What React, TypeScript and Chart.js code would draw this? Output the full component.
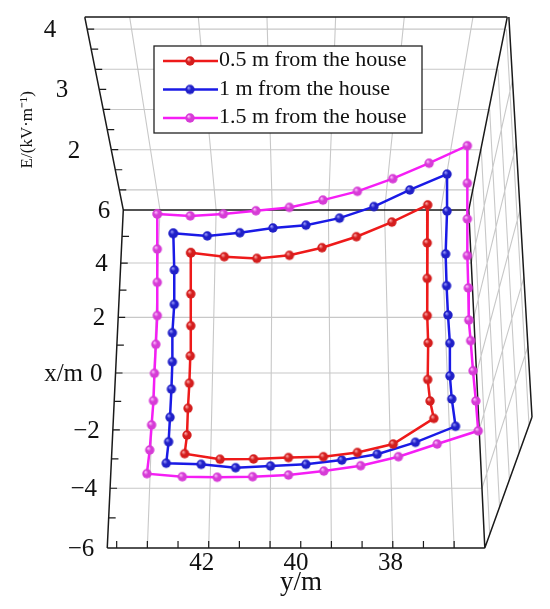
import { useEffect, useRef } from "react";
import { Chart, registerables } from "chart.js";

Chart.register(...registerables);

// ---------- data ----------
const seriesLabels = ["0.5 m from the house", "1 m from the house", "1.5 m from the house"];
const lineColors = ["#ee1a1a", "#1a1ae6", "#f51ef5"];
const ballColors = ["#d41e1e", "#2020c8", "#d63cd6"];
const ballLights = ["#ffb0b0", "#a0a0ff", "#ffc4ff"];

// y/m (horizontal) and apparent x/m (vertical) of each loop
const redYm = [42.23, 41.52, 40.83, 40.14, 39.45, 38.72, 37.97, 37.21, 37.22, 37.22, 37.22, 37.2, 37.21, 37.16, 37.08, 37.94, 38.7, 39.42, 40.16, 40.9, 41.61, 42.36, 42.31, 42.29, 42.26, 42.24, 42.23, 42.23];
const redXm = [4.48, 4.34, 4.28, 4.39, 4.66, 5.05, 5.57, 6.18, 4.83, 3.57, 2.25, 1.28, -0.02, -0.78, -1.4, -2.31, -2.61, -2.76, -2.79, -2.84, -2.85, -2.65, -1.99, -1.04, -0.15, 0.82, 1.89, 3.02];

const blueYm = [42.6, 41.88, 41.19, 40.49, 39.79, 39.08, 38.35, 37.59, 36.8, 36.8, 36.83, 36.81, 36.78, 36.74, 36.74, 36.7, 36.62, 37.47, 38.28, 39.03, 39.79, 40.54, 41.28, 42.01, 42.75, 42.7, 42.67, 42.64, 42.62, 42.62, 42.58, 42.58];
const blueXm = [5.17, 5.08, 5.19, 5.36, 5.46, 5.71, 6.12, 6.71, 7.27, 5.96, 4.44, 3.31, 2.27, 1.27, 0.11, -0.71, -1.68, -2.25, -2.67, -2.88, -3.03, -3.09, -3.15, -3.03, -2.99, -2.23, -1.36, -0.36, 0.61, 1.64, 2.65, 3.87];

const magYm = [42.94, 42.24, 41.54, 40.85, 40.14, 39.43, 38.7, 37.95, 37.18, 36.37, 36.37, 36.37, 36.37, 36.35, 36.34, 36.3, 36.25, 36.19, 36.14, 37.01, 37.83, 38.63, 39.41, 40.16, 40.92, 41.67, 42.41, 43.16, 43.1, 43.06, 43.02, 43.0, 42.97, 42.94, 42.94, 42.94];
const magXm = [5.86, 5.79, 5.86, 5.97, 6.09, 6.35, 6.66, 7.11, 7.66, 8.28, 6.95, 5.68, 4.38, 3.23, 2.09, 1.36, 0.29, -0.78, -1.84, -2.31, -2.76, -3.08, -3.27, -3.41, -3.47, -3.49, -3.47, -3.36, -2.52, -1.63, -0.77, 0.2, 1.23, 2.25, 3.43, 4.61];

// ticks
const yTickLabels = [42, 40, 38]; // y/m
const xTickLabels = [-6, -4, -2, 0, 2, 4, 6]; // x/m
const eTickLabels = [2, 3, 4]; // E
const floorGridYm = [43.15, 41.85, 40.55, 39.25, 37.95, 36.65];
const bottomTickYm = [43.8, 43.15, 42.5, 41.85, 41.2, 40.55, 39.9, 39.25, 38.6, 37.95, 37.3, 36.65];
const floorGridXm = [-4, -2, 0, 2, 4];
const leftTickXm = [-5, -4, -3, -2, -1, 0, 1, 2, 3, 4, 5];
const wallGridE = [1.333, 2, 2.667, 3.333, 4];
const wallTickE = [1.333, 1.667, 2, 2.333, 2.667, 3, 3.333, 3.667, 4];

// ---------- box geometry (apparent plane coordinates) ----------
const Y_LO = 36, Y_HI = 44, X_LO = -6, X_HI = 6, E_LO = 1, E_HI = 4.2;
const CENTER_Y = 40;
const FLOOR_FAR_SCALE = 0.915;
const WALL_TOP_SCALE = 1.119;
const E_UNIT = 2.14;
const PERSP_K = 0.0734;
const WALL_TOP = X_HI + (E_HI - E_LO) * E_UNIT;
const SIDE_OUT_LO = [35.0, -1.35];
const SIDE_OUT_HI = [35.49, WALL_TOP];

const persp = (t: number) => {
  const s = (t - X_LO) / (X_HI - X_LO);
  return (s * (1 + PERSP_K)) / (1 + PERSP_K * s);
};
const fy = (t: number) => X_LO + (X_HI - X_LO) * persp(t);
const floorPt = (ym: number, t: number) => {
  const ay = fy(t);
  const sc = 1 + (FLOOR_FAR_SCALE - 1) * ((ay - X_LO) / (X_HI - X_LO));
  return [CENTER_Y + (ym - CENTER_Y) * sc, ay];
};
const wallPt = (ym: number, e: number) => {
  const ay = X_HI + (e - E_LO) * E_UNIT;
  const f = (ay - X_HI) / (WALL_TOP - X_HI);
  const sc = FLOOR_FAR_SCALE + (WALL_TOP_SCALE - FLOOR_FAR_SCALE) * f;
  return [CENTER_Y + (ym - CENTER_Y) * sc, ay];
};
const sidePt = (t: number, e: number) => {
  const a = floorPt(Y_LO, t);
  const u = persp(t);
  const b = [SIDE_OUT_LO[0] + (SIDE_OUT_HI[0] - SIDE_OUT_LO[0]) * u, SIDE_OUT_LO[1] + (SIDE_OUT_HI[1] - SIDE_OUT_LO[1]) * u];
  const f = (e - E_LO) / (E_HI - E_LO);
  return [a[0] + (b[0] - a[0]) * f, a[1] + (b[1] - a[1]) * f];
};

const fmt = (v: number) => (v < 0 ? "\u2212" + Math.abs(v) : String(v));
const SERIF = '"Liberation Serif", "Times New Roman", serif';

function makeBall(base: string, light: string, r: number) {
  const c = document.createElement("canvas");
  const size = Math.ceil(r * 2) + 2;
  c.width = size;
  c.height = size;
  const g = c.getContext("2d")!;
  const cx = size / 2, cy = size / 2;
  const grad = g.createRadialGradient(cx - r * 0.35, cy - r * 0.4, r * 0.05, cx, cy, r);
  grad.addColorStop(0, light);
  grad.addColorStop(0.45, base);
  grad.addColorStop(1, base);
  g.fillStyle = grad;
  g.beginPath();
  g.arc(cx, cy, r, 0, Math.PI * 2);
  g.fill();
  return c;
}

export default function App() {
  const ref = useRef<HTMLCanvasElement>(null);

  useEffect(() => {
    const canvas = ref.current!;
    const balls = ballColors.map((c, i) => makeBall(c, ballLights[i], 4.7));
    const series = [
      [redYm, redXm],
      [blueYm, blueXm],
      [magYm, magXm],
    ];

    const toPx = (chart: any, p: number[]) => [
      chart.scales.x.getPixelForValue(p[0]),
      chart.scales.y.getPixelForValue(p[1]),
    ];

    const framePlugin = {
      id: "frame3d",
      beforeDatasetsDraw(chart: any) {
        const ctx = chart.ctx as CanvasRenderingContext2D;
        const seg = (a: number[], b: number[]) => {
          const A = toPx(chart, a), B = toPx(chart, b);
          ctx.moveTo(A[0], A[1]);
          ctx.lineTo(B[0], B[1]);
        };
        ctx.save();
        // grid
        ctx.strokeStyle = "#c8c8c8";
        ctx.lineWidth = 1.1;
        ctx.beginPath();
        floorGridYm.forEach((v) => {
          seg(floorPt(v, X_LO), floorPt(v, X_HI));
          seg(wallPt(v, E_LO), wallPt(v, E_HI));
        });
        floorGridXm.forEach((t) => {
          seg(floorPt(Y_HI, t), floorPt(Y_LO, t));
          seg(sidePt(t, E_LO), sidePt(t, E_HI));
        });
        wallGridE.forEach((e) => {
          seg(wallPt(Y_HI, e), wallPt(Y_LO, e));
          seg(sidePt(X_LO, e), sidePt(X_HI, e));
        });
        ctx.stroke();
        // frame
        ctx.strokeStyle = "#1a1a1a";
        ctx.lineWidth = 1.5;
        ctx.beginPath();
        seg(wallPt(Y_HI, E_HI), wallPt(Y_LO, E_HI));
        seg(floorPt(Y_HI, X_HI), wallPt(Y_HI, E_HI));
        seg(floorPt(Y_LO, X_HI), wallPt(Y_LO, E_HI));
        seg(floorPt(Y_HI, X_HI), floorPt(Y_LO, X_HI));
        seg(floorPt(Y_HI, X_LO), floorPt(Y_HI, X_HI));
        seg(floorPt(Y_HI, X_LO), floorPt(Y_LO, X_LO));
        seg(floorPt(Y_LO, X_LO), floorPt(Y_LO, X_HI));
        seg(sidePt(X_LO, E_LO), sidePt(X_LO, E_HI));
        seg(sidePt(X_LO, E_HI), sidePt(X_HI, E_HI));
        ctx.stroke();
        // tick marks
        ctx.lineWidth = 1.2;
        ctx.beginPath();
        bottomTickYm.forEach((v) => {
          const [px, py] = toPx(chart, floorPt(v, X_LO));
          ctx.moveTo(px, py);
          ctx.lineTo(px, py - 7);
        });
        leftTickXm.forEach((t) => {
          const [px, py] = toPx(chart, floorPt(Y_HI, t));
          ctx.moveTo(px, py);
          ctx.lineTo(px + 7, py);
        });
        wallTickE.forEach((e) => {
          const [px, py] = toPx(chart, wallPt(Y_HI, e));
          ctx.moveTo(px, py);
          ctx.lineTo(px + 7, py);
        });
        ctx.stroke();
        ctx.restore();
      },
      afterDatasetsDraw(chart: any) {
        const ctx = chart.ctx as CanvasRenderingContext2D;
        const ca = chart.chartArea;
        const left = ca.left + 68, top = ca.top + 29, w = 268, h = 87;
        ctx.save();
        ctx.fillStyle = "#ffffff";
        ctx.fillRect(left, top, w, h);
        ctx.strokeStyle = "#222";
        ctx.lineWidth = 1.3;
        ctx.strokeRect(left, top, w, h);
        ctx.font = `22px ${SERIF}`;
        ctx.textAlign = "left";
        ctx.textBaseline = "alphabetic";
        seriesLabels.forEach((lab, i) => {
          const ry = top + 15 + i * 28.5;
          ctx.strokeStyle = lineColors[i];
          ctx.lineWidth = 2.5;
          ctx.beginPath();
          ctx.moveTo(left + 9, ry);
          ctx.lineTo(left + 64, ry);
          ctx.stroke();
          const b = balls[i];
          ctx.drawImage(b, left + 36 - b.width / 2, ry - b.height / 2);
          ctx.fillStyle = "#111";
          ctx.fillText(lab, left + 65, ry + 5);
        });
        ctx.restore();
      },
      afterDraw(chart: any) {
        const ctx = chart.ctx as CanvasRenderingContext2D;
        ctx.save();
        ctx.fillStyle = "#111";
        ctx.font = `25px ${SERIF}`;
        ctx.textBaseline = "alphabetic";
        // bottom labels
        ctx.textAlign = "center";
        yTickLabels.forEach((v) => {
          const [px, py] = toPx(chart, floorPt(v, X_LO));
          ctx.fillText(fmt(v), px, py + 22);
        });
        // left floor labels
        ctx.textAlign = "right";
        xTickLabels.forEach((t) => {
          const [px, py] = toPx(chart, floorPt(Y_HI, t));
          ctx.fillText(fmt(t), px - 13, py + 8);
          if (t === 0) {
            const w0 = ctx.measureText("0").width;
            ctx.fillText("x/m", px - 13 - w0 - 7, py + 8);
          }
        });
        // E labels
        eTickLabels.forEach((e) => {
          const [px, py] = toPx(chart, wallPt(Y_HI, e));
          ctx.fillText(fmt(e), px - 31, py + 8);
        });
        // y/m title
        const [bl] = toPx(chart, floorPt(Y_HI, X_LO));
        const [br, bb] = toPx(chart, floorPt(Y_LO, X_LO));
        ctx.textAlign = "center";
        ctx.font = `27px ${SERIF}`;
        ctx.fillText("y/m", (bl + br) / 2 + 5, bb + 42);
        // E title
        const [ex, ey] = toPx(chart, wallPt(Y_HI, 2.33));
        ctx.translate(ex - 80, ey);
        ctx.rotate(-Math.PI / 2);
        ctx.font = `17px ${SERIF}`;
        ctx.textBaseline = "middle";
        ctx.fillText("E/(kV\u00b7m\u207b\u00b9)", 0, 0);
        ctx.restore();
      },
    };

    const chart = new Chart(canvas, {
      type: "scatter",
      data: {
        datasets: series.map(([ym, xm], i) => {
          const pts = ym.map((v, j) => ({ x: v, y: xm[j] }));
          pts.push({ ...pts[0] });
          return {
            label: seriesLabels[i],
            data: pts,
            showLine: true,
            borderColor: lineColors[i],
            backgroundColor: ballColors[i],
            borderWidth: 2.5,
            pointStyle: balls[i] as any,
            pointRadius: 4.7,
            tension: 0,
          };
        }),
      },
      options: {
        animation: false,
        responsive: false,
        devicePixelRatio: 1,
        layout: { padding: { left: 86, right: 18, top: 17, bottom: 61 } },
        scales: {
          x: { type: "linear", min: 35, max: 44.45, reverse: true, display: false },
          y: { type: "linear", min: -6, max: 12.85, display: false },
        },
        plugins: { legend: { display: false }, tooltip: { enabled: false } },
        clip: false as any,
      },
      plugins: [framePlugin],
    });
    return () => chart.destroy();
  }, []);

  return (
    <div style={{ position: "absolute", left: 0, top: 0, width: 550, height: 609, background: "#fff" }}>
      <canvas ref={ref} width={550} height={609} style={{ display: "block" }} />
    </div>
  );
}
